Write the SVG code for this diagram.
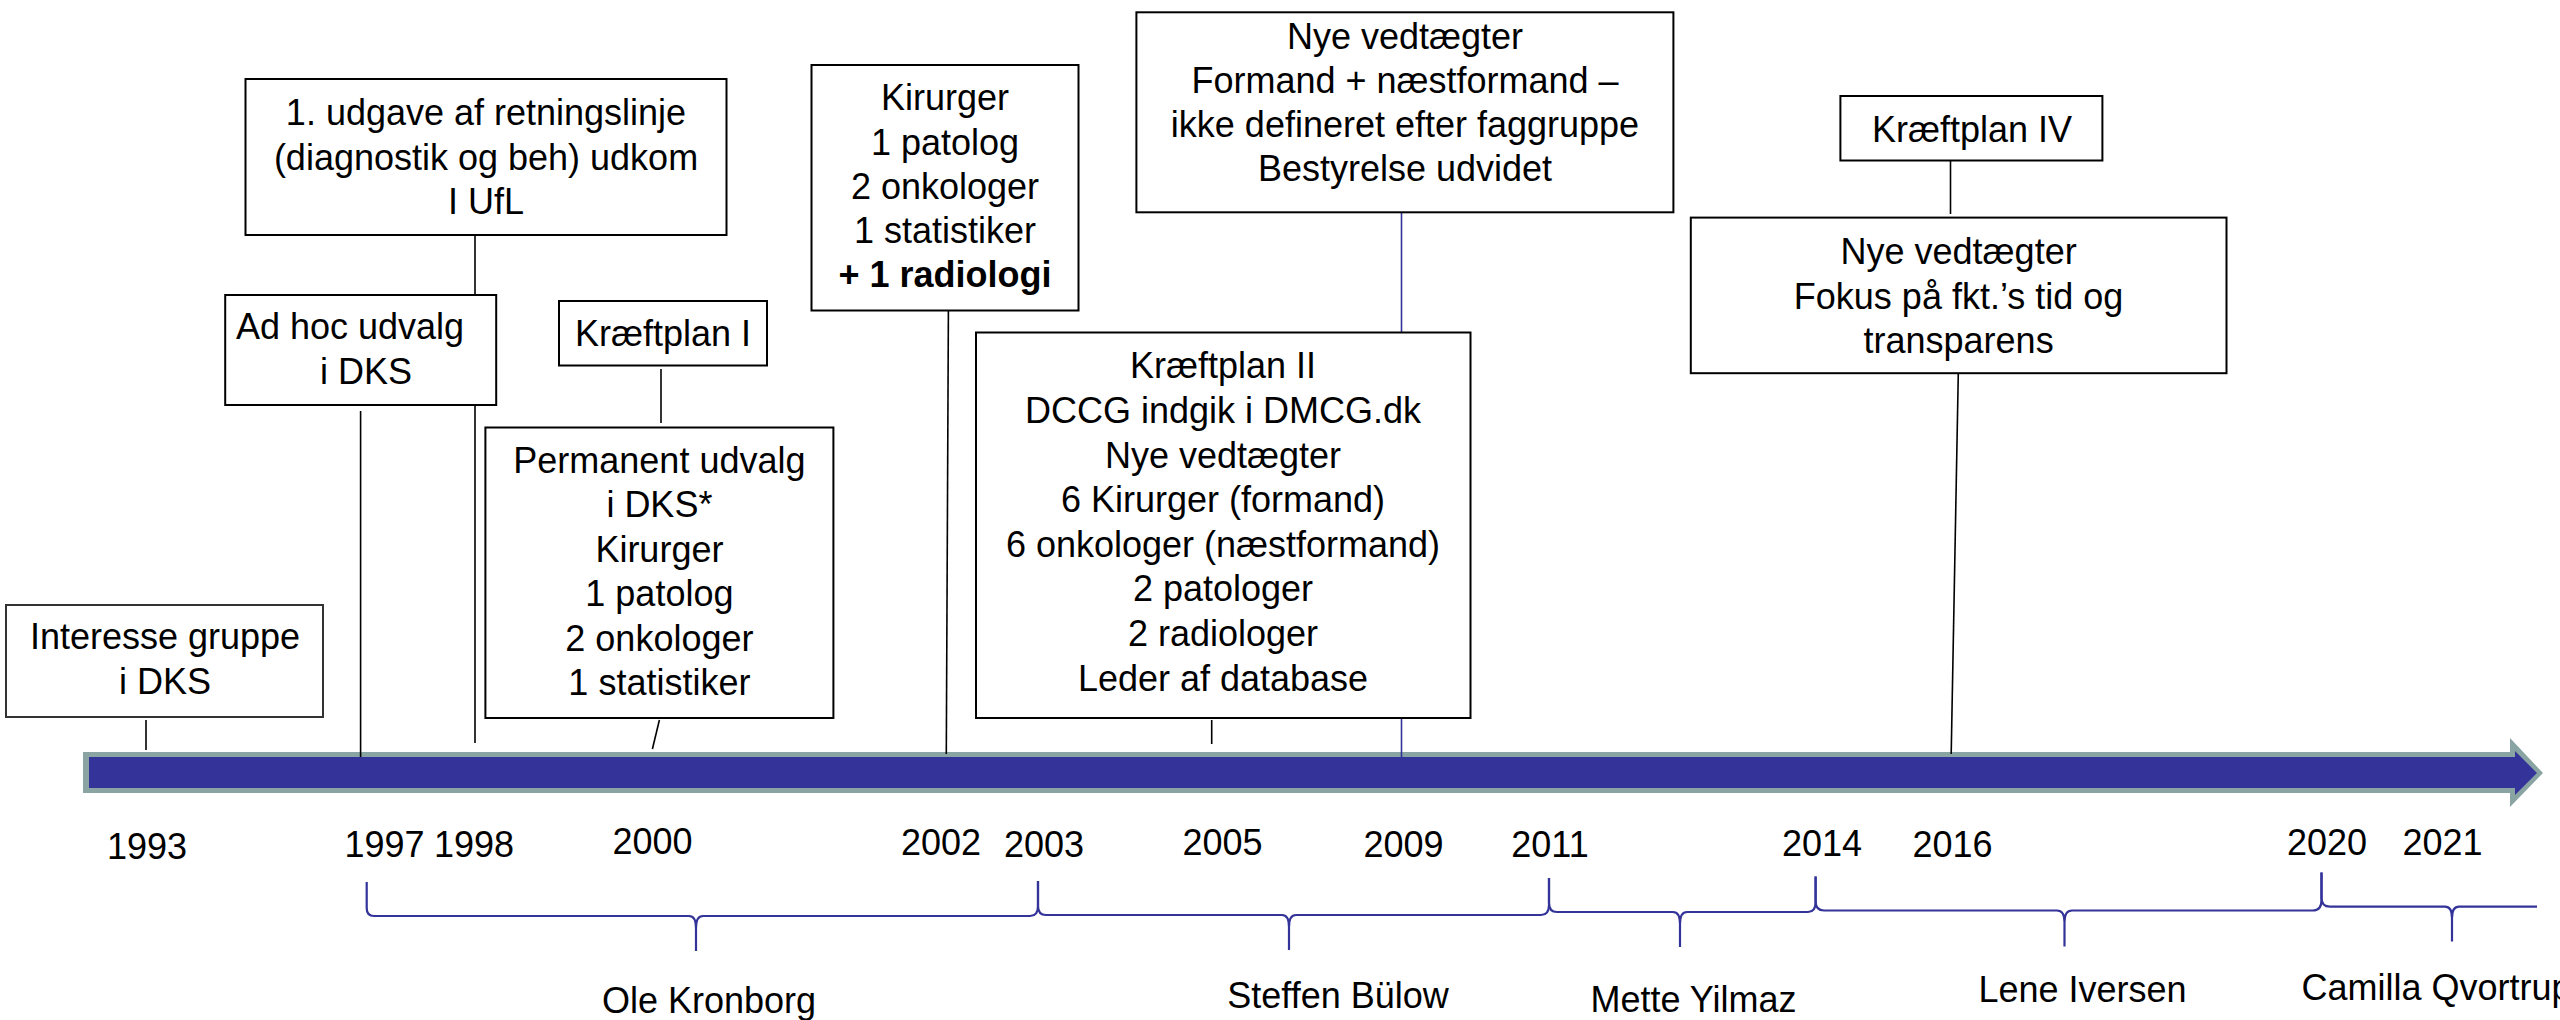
<svg xmlns="http://www.w3.org/2000/svg" width="2560" height="1020" viewBox="0 0 2560 1020">
<style>
  text { font-family: "Liberation Sans", Arial, sans-serif; font-size: 36px; fill: #000; }
  .c { text-anchor: middle; }
  .b { font-weight: bold; }
  .box { fill: #fff; stroke: #000; stroke-width: 2; }
  .conn { stroke: #000; stroke-width: 1.6; fill: none; }
  .connb { stroke: #333399; stroke-width: 1.6; fill: none; }
  .brace { stroke: #333399; stroke-width: 2.2; fill: none; stroke-linejoin: round; }
</style>
<rect x="0" y="0" width="2560" height="1020" fill="#fff"/>

<!-- timeline arrow -->
<g id="timeline">
  <polygon points="83,752 2510,752 2510,738 2543,773 2510,807 2510,793 83,793" fill="#8AA4A4"/>
  <polygon points="89,757 2515,757 2515,751 2537,773 2515,795 2515,788 89,788" fill="#333399"/>
</g>

<!-- connectors -->
<g id="connectors">
  <line class="conn" x1="146" y1="720" x2="146" y2="750"/>
  <line class="conn" x1="360.6" y1="411" x2="360.6" y2="757"/>
  <line class="conn" x1="475" y1="235" x2="475" y2="743"/>
  <line class="conn" x1="661" y1="369" x2="661" y2="423"/>
  <line class="conn" x1="659.4" y1="720" x2="652.4" y2="749"/>
  <line class="conn" x1="948.4" y1="310" x2="946.3" y2="754"/>
  <line class="connb" x1="1401.5" y1="213" x2="1401.5" y2="757"/>
  <line class="conn" x1="1211.7" y1="720" x2="1211.7" y2="744"/>
  <line class="conn" x1="1950.5" y1="161" x2="1950.5" y2="214"/>
  <line class="conn" x1="1958.3" y1="373" x2="1951.2" y2="754"/>
</g>

<!-- nodes -->
<g id="n-interesse">
  <rect class="box" x="6" y="605" width="317" height="112" style="stroke:#333"/>
  <text class="c" x="165" y="649">Interesse gruppe</text>
  <text class="c" x="165" y="694">i DKS</text>
</g>
<g id="n-udgave">
  <rect class="box" x="245.5" y="79" width="481" height="156"/>
  <text class="c" x="486" y="125">1. udgave af retningslinje</text>
  <text class="c" x="486" y="170">(diagnostik og beh) udkom</text>
  <text class="c" x="486" y="214">I UfL</text>
</g>
<g id="n-adhoc">
  <rect class="box" x="225.2" y="295" width="271" height="110"/>
  <text class="c" x="350" y="339">Ad hoc udvalg</text>
  <text class="c" x="366" y="384">i DKS</text>
</g>
<g id="n-kp1">
  <rect class="box" x="559" y="301" width="208" height="64.5"/>
  <text class="c" x="663" y="345.5">Kræftplan I</text>
</g>
<g id="n-permanent">
  <rect class="box" x="485.4" y="427.5" width="348" height="290.5"/>
  <text class="c" x="659.4" y="472.5">Permanent udvalg</text>
  <text class="c" x="659.4" y="517">i DKS*</text>
  <text class="c" x="659.4" y="562">Kirurger</text>
  <text class="c" x="659.4" y="606">1 patolog</text>
  <text class="c" x="659.4" y="650.5">2 onkologer</text>
  <text class="c" x="659.4" y="694.5">1 statistiker</text>
</g>
<g id="n-kirurger">
  <rect class="box" x="811.5" y="65" width="267" height="245.5"/>
  <text class="c" x="945" y="110">Kirurger</text>
  <text class="c" x="945" y="155">1 patolog</text>
  <text class="c" x="945" y="198.5">2 onkologer</text>
  <text class="c" x="945" y="242.5">1 statistiker</text>
  <text class="c b" x="945" y="286.5">+ 1 radiologi</text>
</g>
<g id="n-nye2009">
  <rect class="box" x="1136.4" y="12.3" width="537" height="200"/>
  <text class="c" x="1405" y="48.5">Nye vedtægter</text>
  <text class="c" x="1405" y="92.5">Formand + næstformand –</text>
  <text class="c" x="1405" y="136.5">ikke defineret efter faggruppe</text>
  <text class="c" x="1405" y="181">Bestyrelse udvidet</text>
</g>
<g id="n-kp2">
  <rect class="box" x="976" y="332.5" width="494.5" height="385.5"/>
  <text class="c" x="1223" y="378">Kræftplan II</text>
  <text class="c" x="1223" y="423">DCCG indgik i DMCG.dk</text>
  <text class="c" x="1223" y="467.5">Nye vedtægter</text>
  <text class="c" x="1223" y="512">6 Kirurger (formand)</text>
  <text class="c" x="1223" y="556.5">6 onkologer (næstformand)</text>
  <text class="c" x="1223" y="601">2 patologer</text>
  <text class="c" x="1223" y="645.5">2 radiologer</text>
  <text class="c" x="1223" y="690.5">Leder af database</text>
</g>
<g id="n-kp4">
  <rect class="box" x="1840.4" y="96" width="262" height="64.5"/>
  <text class="c" x="1972" y="141.5">Kræftplan IV</text>
</g>
<g id="n-nye2016">
  <rect class="box" x="1690.8" y="217.6" width="535.7" height="155.6"/>
  <text class="c" x="1958.6" y="264">Nye vedtægter</text>
  <text class="c" x="1958.6" y="308.5">Fokus på fkt.’s tid og</text>
  <text class="c" x="1958.6" y="353">transparens</text>
</g>

<!-- year labels -->
<g id="years">
  <text class="c" x="147" y="859">1993</text>
  <text class="c" x="384.5" y="857">1997</text>
  <text class="c" x="474" y="857">1998</text>
  <text class="c" x="652.5" y="854">2000</text>
  <text class="c" x="941" y="855">2002</text>
  <text class="c" x="1044" y="857">2003</text>
  <text class="c" x="1222.5" y="855">2005</text>
  <text class="c" x="1403.5" y="857">2009</text>
  <text class="c" x="1550" y="857">2011</text>
  <text class="c" x="1822" y="855.5">2014</text>
  <text class="c" x="1952.5" y="857">2016</text>
  <text class="c" x="2327" y="854.5">2020</text>
  <text class="c" x="2442.5" y="855">2021</text>
</g>

<!-- braces -->
<g id="braces">
  <path class="brace" d="M366.7,882 L366.7,908 Q366.7,916 374,916 L689,916 Q696,916 696,928 L696,951 M696,928 Q696,916 703,916 L1030,916 Q1038,916 1038,906 L1038,881"/>
  <path class="brace" d="M1038,881 L1038,906 Q1038,915 1046,915 L1282,915 Q1289,915 1289,927 L1289,950 M1289,927 Q1289,915 1296,915 L1541,915 Q1549,915 1549,905 L1549,878"/>
  <path class="brace" d="M1549,878 L1549,903 Q1549,912 1557,912 L1673,912 Q1680,912 1680,924 L1680,947 M1680,924 Q1680,912 1687,912 L1808,912 Q1815.6,912 1815.6,902 L1815.6,876.5"/>
  <path class="brace" d="M1815.6,876.5 L1815.6,901 Q1815.6,910.5 1824,910.5 L2057,910.5 Q2064.5,910.5 2064.5,922 L2064.5,946.5 M2064.5,922 Q2064.5,910.5 2072,910.5 L2313,910.5 Q2321.5,910.5 2321.5,900 L2321.5,872.5"/>
  <path class="brace" d="M2321.5,872.5 L2321.5,898 Q2321.5,906.7 2330,906.7 L2445,906.7 Q2452,906.7 2452,918 L2452,941.5 M2452,918 Q2452,906.7 2459,906.7 L2537,906.7"/>
</g>

<!-- names -->
<g id="names">
  <text class="c" x="709" y="1013">Ole Kronborg</text>
  <text class="c" x="1338" y="1008">Steffen Bülow</text>
  <text class="c" x="1693.5" y="1012">Mette Yilmaz</text>
  <text class="c" x="2082.5" y="1001.5">Lene Iversen</text>
  <text x="2301.5" y="1000">Camilla Qvortrup</text>
</g>
</svg>
